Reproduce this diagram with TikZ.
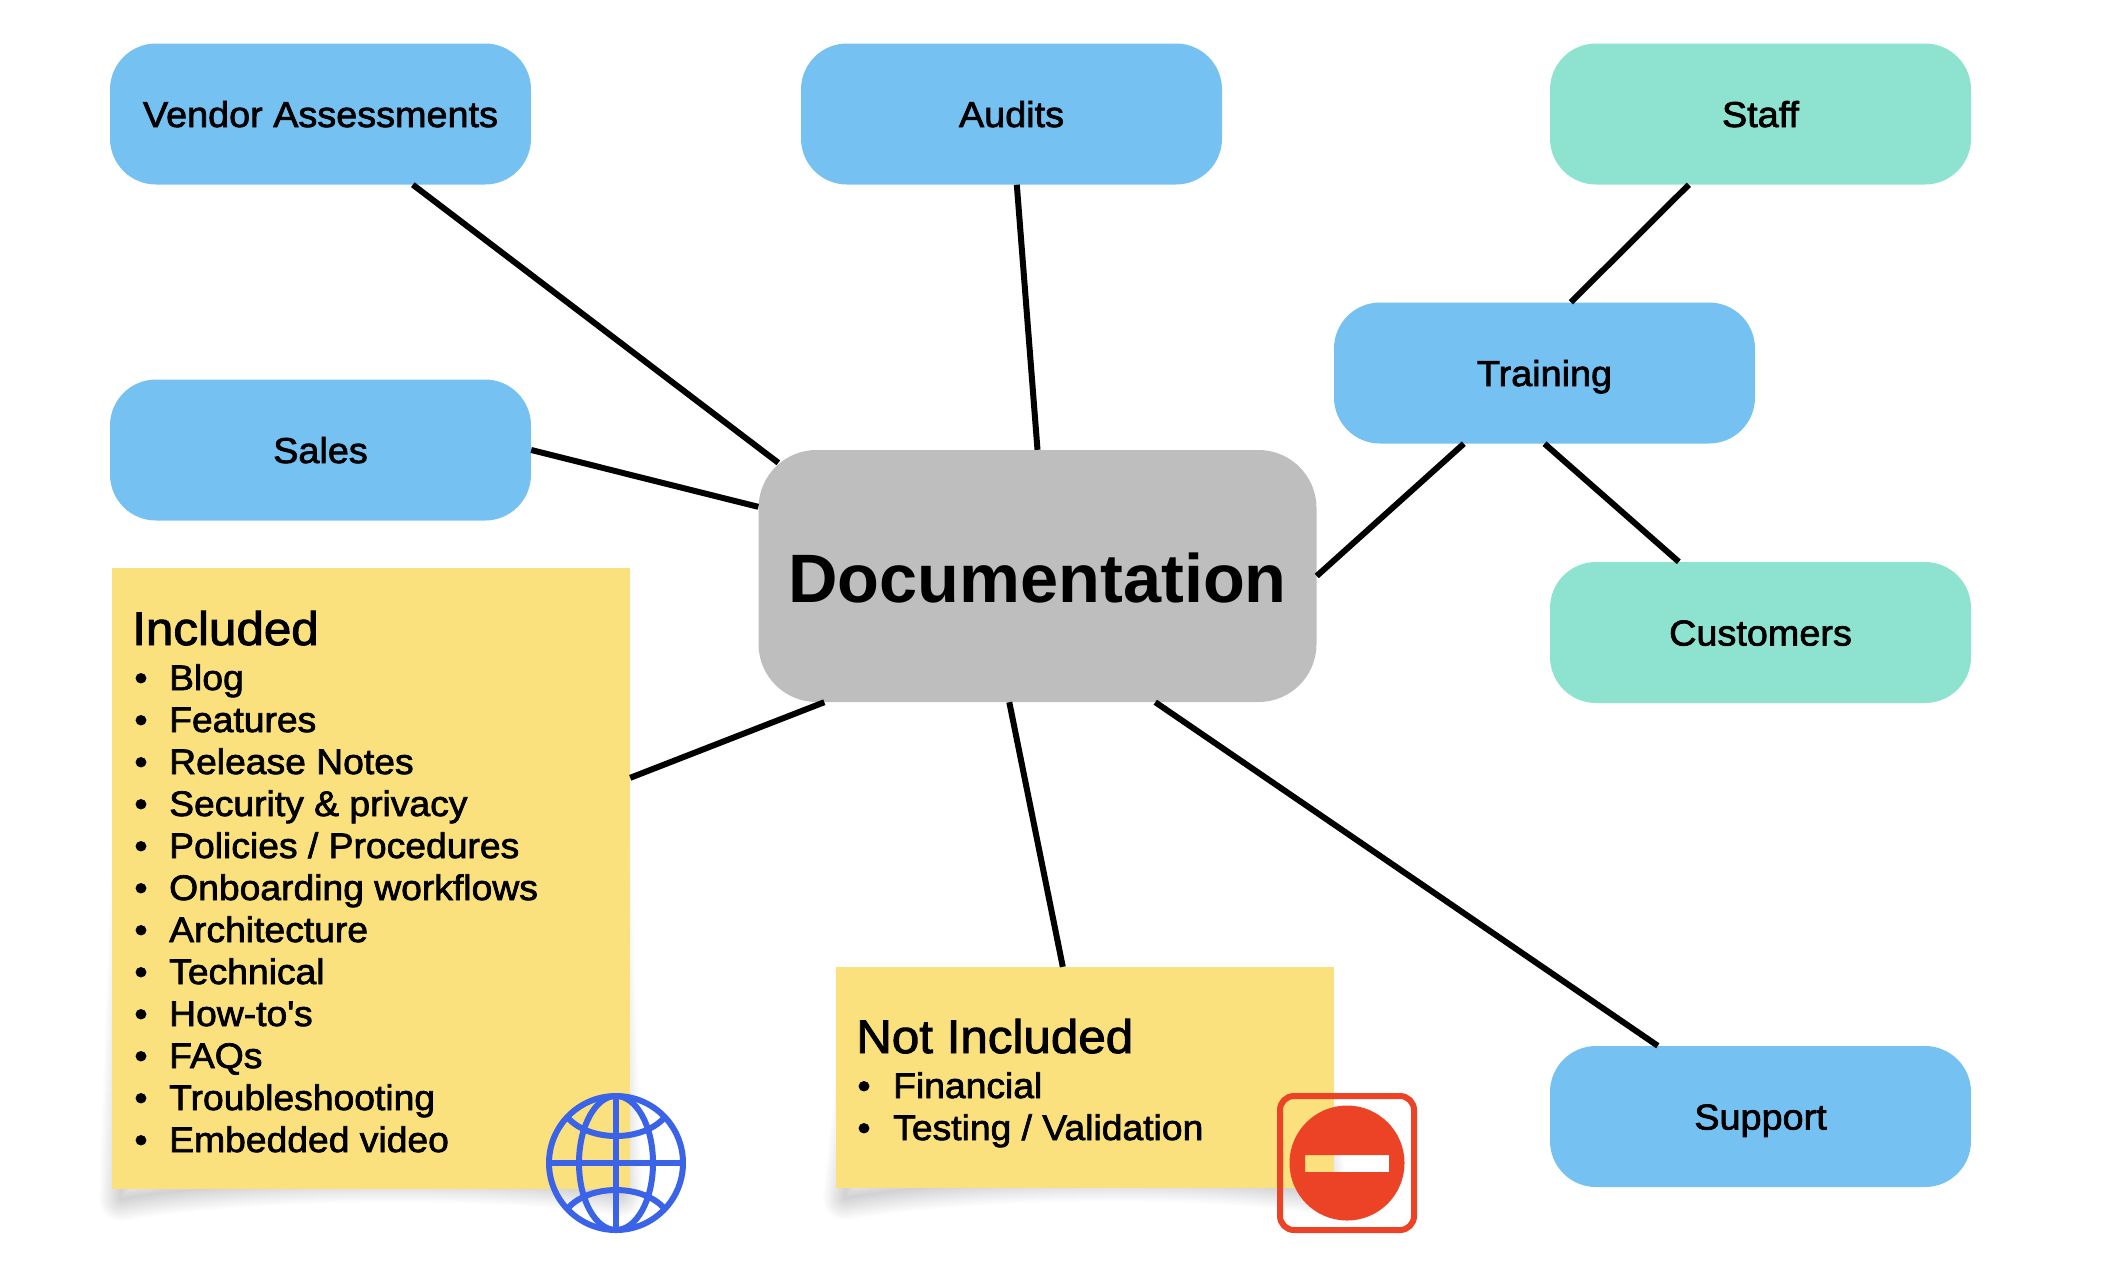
\documentclass[tikz,border=0pt]{standalone}
\usepackage{fontspec}
\setmainfont{Liberation Sans}[FakeBold=2,FakeStretch=1.05]
\newfontfamily\titlefont{Liberation Sans}
\definecolor{boxblue}{HTML}{75C1F2}
\definecolor{boxteal}{HTML}{8DE3CF}
\definecolor{boxgrey}{HTML}{BEBEBE}
\definecolor{sticky}{HTML}{FAE17D}
\definecolor{globeblue}{HTML}{3A63E8}
\definecolor{stopred}{HTML}{EC4225}
\tikzset{
  x=1pt,y=-1pt,
  pill/.style={rounded corners=46pt,minimum width=421pt,minimum height=141pt,inner sep=0pt,
    text height=26pt,text depth=0pt,font=\fontsize{36}{42}\selectfont,text=black},
  bluepill/.style={pill,fill=boxblue},
  tealpill/.style={pill,fill=boxteal},
  hub/.style={rounded corners=58pt,fill=boxgrey,minimum width=558pt,minimum height=252pt,inner sep=0pt,
    text height=52pt,text depth=0pt,font=\titlefont\bfseries\fontsize{68.5}{76}\selectfont},
  note/.style={fill=sticky,inner sep=0pt},
  head/.style={anchor=base west,inner sep=0pt,font=\fontsize{47}{52}\selectfont},
  item/.style={anchor=base west,inner sep=0pt,font=\fontsize{35.5}{42}\selectfont},
  dot/.style={anchor=base,inner sep=0pt,font=\fontsize{35.5}{42}\selectfont},
  link/.style={line width=6pt,black},
  icon/.style={line width=6pt,globeblue},
}
\newcommand{\noteshadow}[4]{% left,right,top,bottom
  \foreach \w in {2,5,...,44}{
    \draw[black,opacity=.012,line width=\w pt,line join=round]
      (#1+30,#3+40) -- (#2-30,#3+40) -- (#2-9,#4+6)
      .. controls (#2-70,#4-10) and (#1+170,#4-18) .. (#1+9,#4+10) -- cycle;
  }
}
\begin{document}
\begin{tikzpicture}
\useasboundingbox (0,0) rectangle (2124,1278);
% shadows of the notes
\noteshadow{112}{630}{568}{1189}
\noteshadow{836}{1334}{967}{1188}
% nodes
\node[bluepill] (vendor) at (320.5,114) {Vendor Assessments};
\node[bluepill] (audits) at (1011.5,114) {Audits};
\node[tealpill] (staff) at (1760.5,114) {Staff};
\node[bluepill] (training) at (1544.5,373) {Training};
\node[bluepill] (sales) at (320.5,450) {Sales};
\node[tealpill] (customers) at (1760.5,632.5) {Customers};
\node[bluepill] (support) at (1760.5,1116.5) {Support};
\node[hub] (doc) at (1037.5,576) {Documentation};
\node[note,minimum width=518pt,minimum height=621pt] (included) at (371,878.5) {};
\node[note,minimum width=498pt,minimum height=221pt] (excluded) at (1085,1077.5) {};
% note text
\node[head] (inchead) at (132,645) {Included};
\foreach \t [count=\i from 0] in {Blog,Features,Release Notes,Security \& privacy,Policies / Procedures,Onboarding workflows,Architecture,Technical,How-to\textquotesingle s,FAQs,Troubleshooting,Embedded video}{
  \node[dot] (incdot\i) at (141,690+42*\i) {•};
  \node[item] (inc\i) at (169,690+42*\i) {\t};
}
\node[head] (exchead) at (856,1053) {Not Included};
\foreach \t [count=\i from 0] in {Financial,Testing / Validation}{
  \node[dot] (excdot\i) at (864,1098+42*\i) {•};
  \node[item] (exc\i) at (893,1098+42*\i) {\t};
}
% connectors
\draw[link] ([xshift=303pt]vendor.south west) -- ([xshift=20pt,yshift=-13pt]doc.north west);
\draw[link] ([xshift=216pt]audits.south west) -- (doc.north);
\draw[link] ([xshift=139pt]staff.south west) -- ([xshift=237pt]training.north west);
\draw[link] (sales.east) -- ([yshift=-57pt]doc.north west);
\draw[link] ([xshift=130pt]training.south west) -- (doc.east);
\draw[link] (training.south) -- ([xshift=129pt]customers.north west);
\draw[link] ([yshift=-210pt]included.north east) -- ([xshift=66pt]doc.south west);
\draw[link] ([xshift=251pt]doc.south west) -- ([xshift=227pt]excluded.north west);
\draw[link] ([xshift=397pt]doc.south west) -- ([xshift=108pt]support.north west);
% globe icon
\draw[icon] (616,1163) circle[radius=67];
\draw[icon] (616,1096) -- (616,1230);
\draw[icon] (549,1163) -- (683,1163);
\draw[icon] (616,1163) ellipse[x radius=37,y radius=67];
\draw[icon] (568,1118) .. controls (590,1142) and (642,1142) .. (664,1118);
\draw[icon] (568,1208) .. controls (590,1184) and (642,1184) .. (664,1208);
% no-entry icon
\draw[stopred,line width=6pt,rounded corners=14pt] (1280,1096) rectangle (1414,1230);
\fill[stopred,even odd rule] (1347,1163) circle[radius=57.5] (1305,1155) rectangle (1389,1172);
\end{tikzpicture}
\end{document}
